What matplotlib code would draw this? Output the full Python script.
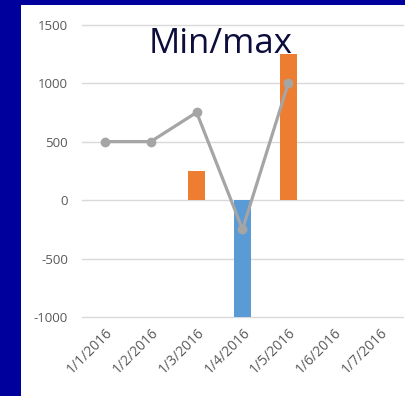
import numpy as np
import matplotlib.pyplot as plt

# Data
dates = ["1/1/2016", "1/2/2016", "1/3/2016", "1/4/2016", "1/5/2016", "1/6/2016", "1/7/2016"]
up_bars = [np.nan, np.nan, 250, np.nan, 1250, np.nan, np.nan]
down_bars = [np.nan, np.nan, np.nan, -1000, np.nan, np.nan, np.nan]
line_vals = [500, 500, 750, -250, 1000, np.nan, np.nan]
yticks = [-1000, -500, 0, 500, 1000, 1500]

fig = plt.figure(figsize=(4.06, 3.96), dpi=100)
fig.patch.set_facecolor("#00009C")

# white chart panel on the blue slide (behind the plot)
panel = fig.add_axes([21 / 406, 0, 1 - 21 / 406, 1 - 5 / 396], zorder=-1)
panel.set_facecolor("white")
panel.set_xticks([])
panel.set_yticks([])
for s in panel.spines.values():
    s.set_visible(False)

ax = fig.add_axes([82 / 406, 1 - 317 / 396, 321 / 406, (317 - 24.7) / 396], zorder=1)
ax.set_facecolor("none")

x = np.arange(len(dates))
ax.bar(x, up_bars, width=0.38, color="#ED7D31", zorder=2)
ax.bar(x, down_bars, width=0.38, color="#5B9BD5", zorder=2)
ax.plot(x, line_vals, color="#A5A5A5", linewidth=2.3, marker="o", markersize=6, zorder=3)

ax.set_xlim(-0.5, len(dates) - 0.5)
ax.set_ylim(-1000, 1500)
ax.set_yticks(yticks)
ax.set_yticklabels([str(v) for v in yticks], fontsize=9.5, color="#595959", family="Open Sans")
ax.set_xticks(x)
ax.set_xticklabels(dates, rotation=45, ha="right", rotation_mode="anchor",
                   fontsize=10, color="#595959", family="Open Sans")
ax.tick_params(length=0, pad=10)
ax.tick_params(axis="x", pad=6)
ax.yaxis.grid(True, color="#D9D9D9", linewidth=1)
for gl in ax.get_ygridlines():
    gl.set_clip_on(False)
ax.set_axisbelow(True)
for s in ax.spines.values():
    s.set_visible(False)

fig.text(221 / 406, 1 - 44 / 396, "Min/max", ha="center", va="center",
         fontsize=25, color="#0D0D3D", family="Open Sans", zorder=5)

fig.savefig("out.png", dpi=100, facecolor=fig.get_facecolor())
